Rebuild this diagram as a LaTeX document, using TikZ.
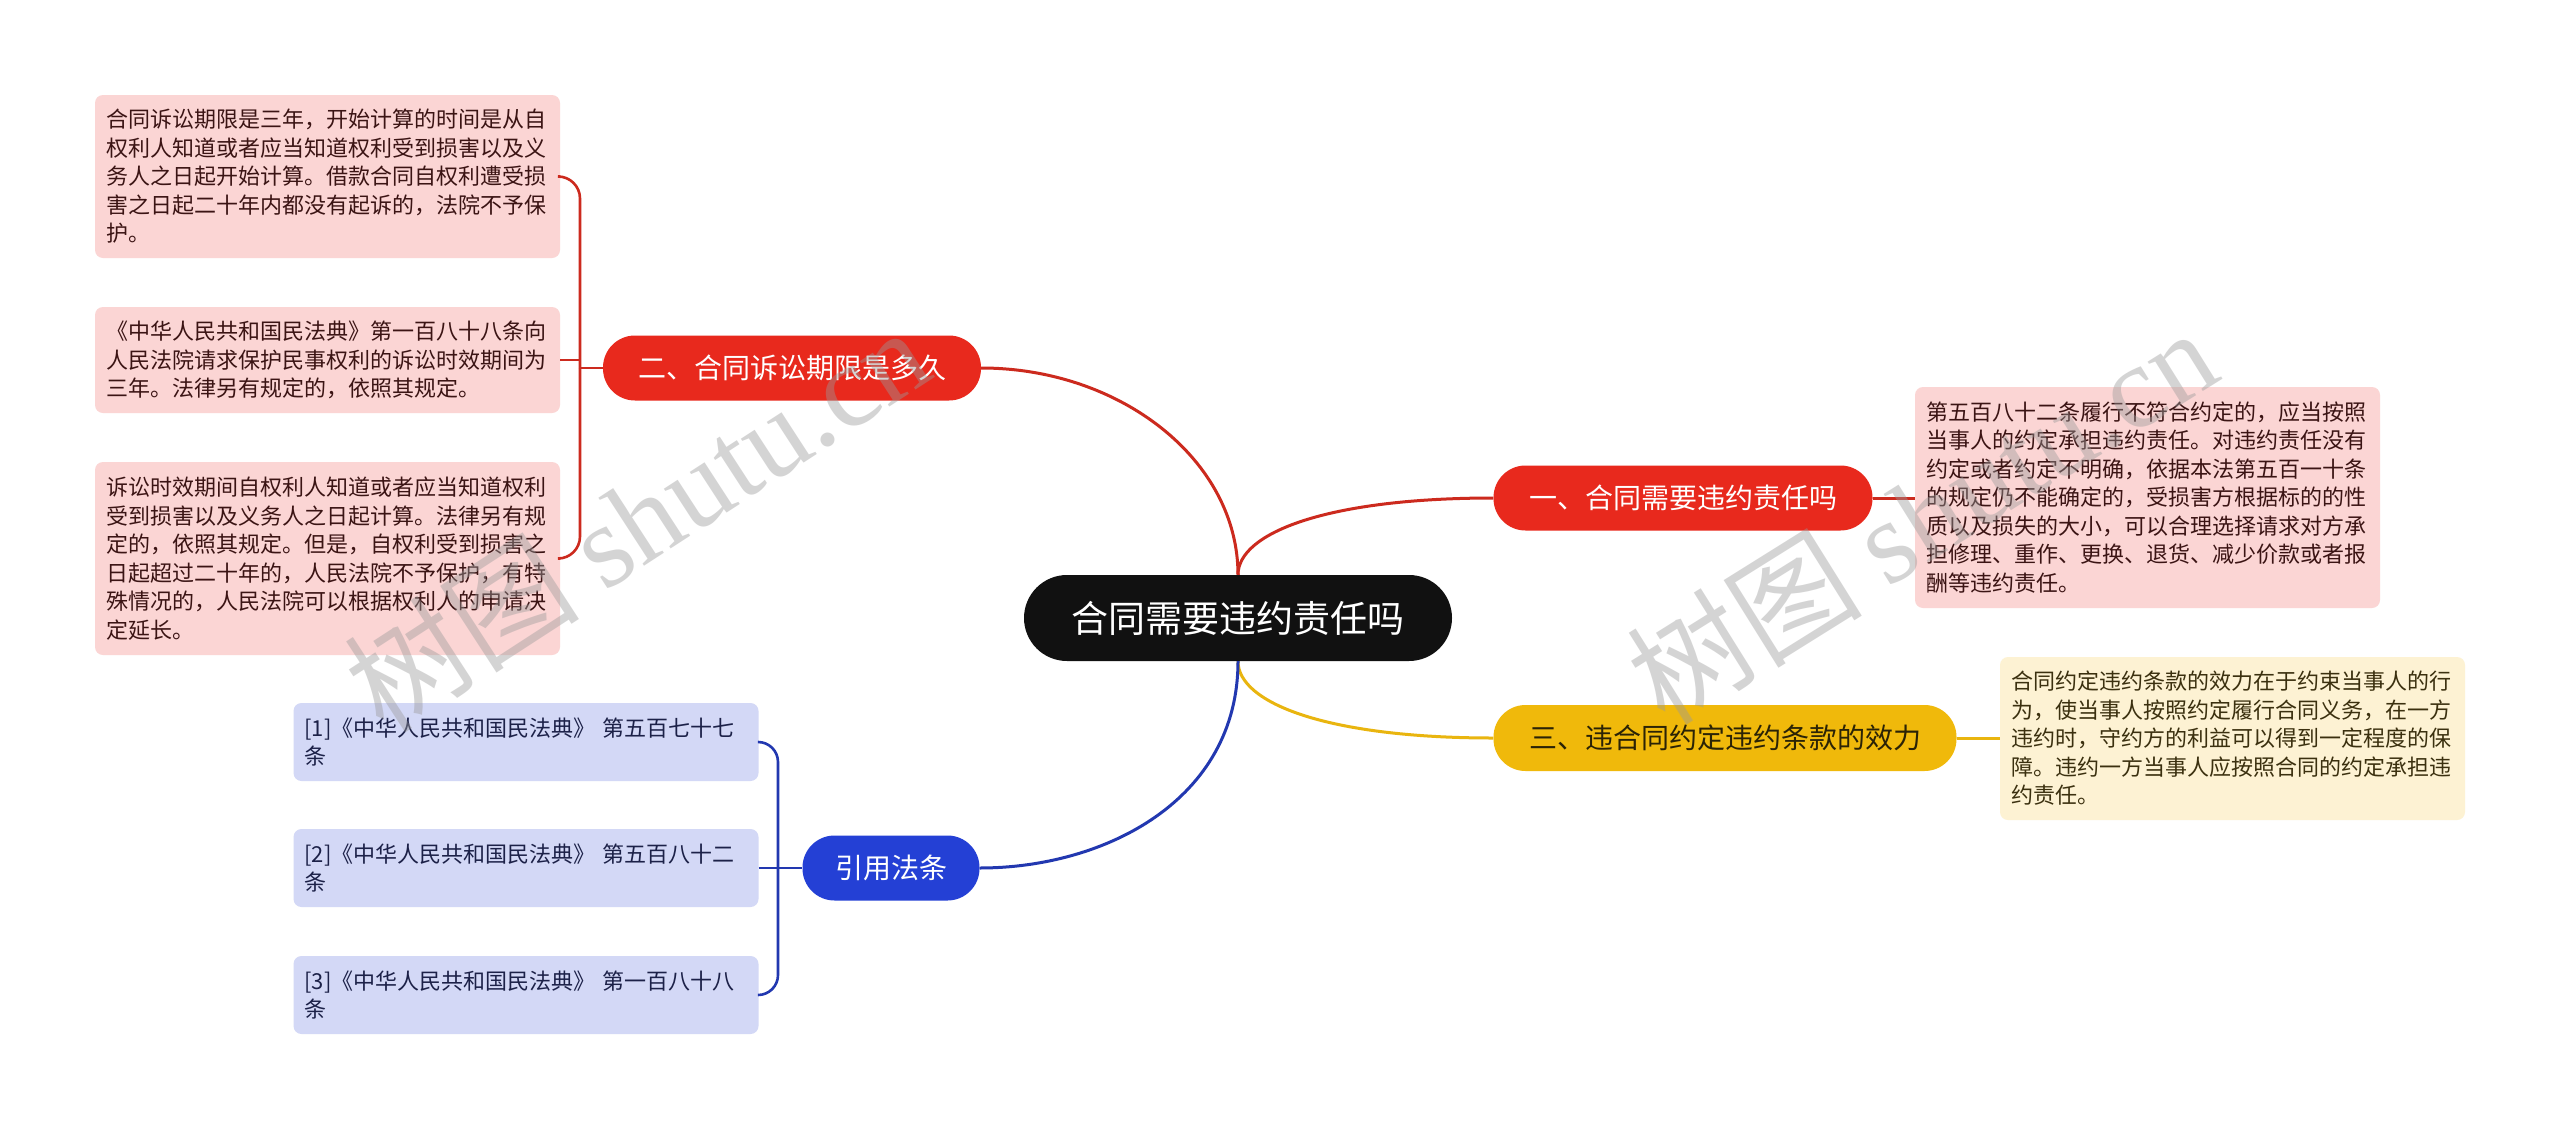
\documentclass[tikz,border=0pt]{standalone}
\usepackage{fontspec}
\setmainfont{Noto Sans CJK SC}
\newfontfamily\wmserif{Liberation Serif}
\newfontfamily\wmcjk{Noto Sans CJK SC}
\definecolor{cblack}{HTML}{111111}
\definecolor{cred}{HTML}{E8291D}
\definecolor{credline}{HTML}{CC2A1E}
\definecolor{cyel}{HTML}{F0B90B}
\definecolor{cyelline}{HTML}{E9B50F}
\definecolor{cblue}{HTML}{2440D5}
\definecolor{cblueline}{HTML}{2238B0}
\definecolor{cpink}{HTML}{FBD5D4}
\definecolor{cpale}{HTML}{FDF2D3}
\definecolor{clav}{HTML}{D3D8F6}
\definecolor{tpink}{HTML}{3B1414}
\definecolor{tyel}{HTML}{3B300F}
\definecolor{tblue}{HTML}{1C2148}
\definecolor{tdark}{HTML}{2B2306}
\definecolor{wmgray}{HTML}{9A9A9A}
\begin{document}
\begin{tikzpicture}[x=1pt,y=-1pt,
  pill/.style={inner sep=0pt, font=\fontsize{28}{34}\selectfont, minimum height=65pt, rounded corners=32pt},
  leafbox/.style={inner xsep=11pt, inner ysep=0pt, text width=443pt, align=left, rounded corners=8pt, font=\fontsize{22}{28.5}\selectfont},
  conn/.style={line width=3pt},
  brk/.style={line width=2.6pt}
]
\fill[white] (0,0) rectangle (2560,1130);
\useasboundingbox (0,0) rectangle (2560,1130);

% central
\node[fill=cblack, text=white, inner sep=0pt, minimum width=428pt, minimum height=86pt, rounded corners=43pt, font=\fontsize{37}{44}\selectfont] (c) at (1238,618) {合同需要违约责任吗};

% level 1
\node[pill, fill=cred, text=white, minimum width=378pt] (n2) at (792,368) {二、合同诉讼期限是多久};
\node[pill, fill=cred, text=white, minimum width=379pt] (n1) at (1683,498) {一、合同需要违约责任吗};
\node[pill, fill=cyel, text=tdark, minimum width=463pt, minimum height=66pt] (n3) at (1725,738) {三、违合同约定违约条款的效力};
\node[pill, fill=cblue, text=white, minimum width=177pt] (ny) at (891,868) {引用法条};

% leaves left (red)
\node[leafbox, fill=cpink, text=tpink, minimum height=163pt] (L1) at (327.5,176.5) {合同诉讼期限是三年，开始计算的时间是从自\\权利人知道或者应当知道权利受到损害以及义\\务人之日起开始计算。借款合同自权利遭受损\\害之日起二十年内都没有起诉的，法院不予保\\护。};
\node[leafbox, fill=cpink, text=tpink, minimum height=106pt] (L2) at (327.5,360) {《中华人民共和国民法典》第一百八十八条向\\人民法院请求保护民事权利的诉讼时效期间为\\三年。法律另有规定的，依照其规定。};
\node[leafbox, fill=cpink, text=tpink, minimum height=193pt] (L3) at (327.5,558.5) {诉讼时效期间自权利人知道或者应当知道权利\\受到损害以及义务人之日起计算。法律另有规\\定的，依照其规定。但是，自权利受到损害之\\日起超过二十年的，人民法院不予保护，有特\\殊情况的，人民法院可以根据权利人的申请决\\定延长。};

% leaves right
\node[leafbox, fill=cpink, text=tpink, minimum height=221pt] (R1) at (2147.5,497.5) {第五百八十二条履行不符合约定的，应当按照\\当事人的约定承担违约责任。对违约责任没有\\约定或者约定不明确，依据本法第五百一十条\\的规定仍不能确定的，受损害方根据标的的性\\质以及损失的大小，可以合理选择请求对方承\\担修理、重作、更换、退货、减少价款或者报\\酬等违约责任。};
\node[leafbox, fill=cpale, text=tyel, minimum height=163pt] (R2) at (2232.5,738.5) {合同约定违约条款的效力在于约束当事人的行\\为，使当事人按照约定履行合同义务，在一方\\违约时，守约方的利益可以得到一定程度的保\\障。违约一方当事人应按照合同的约定承担违\\约责任。};

% leaves blue
\node[leafbox, fill=clav, text=tblue, minimum height=78pt] (B1) at (526,742) {[1]《中华人民共和国民法典》 第五百七十七\\条};
\node[leafbox, fill=clav, text=tblue, minimum height=78pt] (B2) at (526,868) {[2]《中华人民共和国民法典》 第五百八十二\\条};
\node[leafbox, fill=clav, text=tblue, minimum height=78pt] (B3) at (526,995) {[3]《中华人民共和国民法典》 第一百八十八\\条};

% junctions
\coordinate (j2) at (580,368);
\coordinate (jb) at (778,868);

% central connectors
\draw[conn, credline] (c.north) .. controls +(0,-115) and +(139,0) .. (n2.east);
\draw[conn, credline] (c.north) .. controls +(0,-42) and +(-166,0) .. (n1.west);
\draw[conn, cyelline] (c.south) .. controls +(0,42) and +(-166,0) .. (n3.west);
\draw[conn, cblueline] (c.south) .. controls +(0,139) and +(125,0) .. (ny.east);

% leaf connectors
\draw[conn, credline] (n1.east) -- (R1.west |- n1.east);
\draw[conn, cyelline] (n3.east) -- (R2.west |- n3.east);

\draw[brk, credline] (n2.west) -- (j2);
\draw[brk, credline, rounded corners=22pt] (L1.east) -| (j2);
\draw[brk, credline, rounded corners=22pt] (L3.east) -| (j2);
\draw[brk, credline] (L2.east) -- (L2.east -| j2);

\draw[brk, cblueline] (B2.east) -- (ny.west);
\draw[brk, cblueline, rounded corners=20pt] (B1.east) -| (jb);
\draw[brk, cblueline, rounded corners=20pt] (B3.east) -| (jb);

% watermarks
\node[rotate=33, text=wmgray, text opacity=0.42, font=\fontsize{118}{130}\selectfont, inner sep=0pt] (wm1) at (636,518) {{\wmcjk 树图} {\wmserif shutu.cn}};
\node[rotate=32, text=wmgray, text opacity=0.42, font=\fontsize{118}{130}\selectfont, inner sep=0pt] (wm2) at (1921,515) {{\wmcjk 树图} {\wmserif shutu.cn}};
\end{tikzpicture}
\end{document}
